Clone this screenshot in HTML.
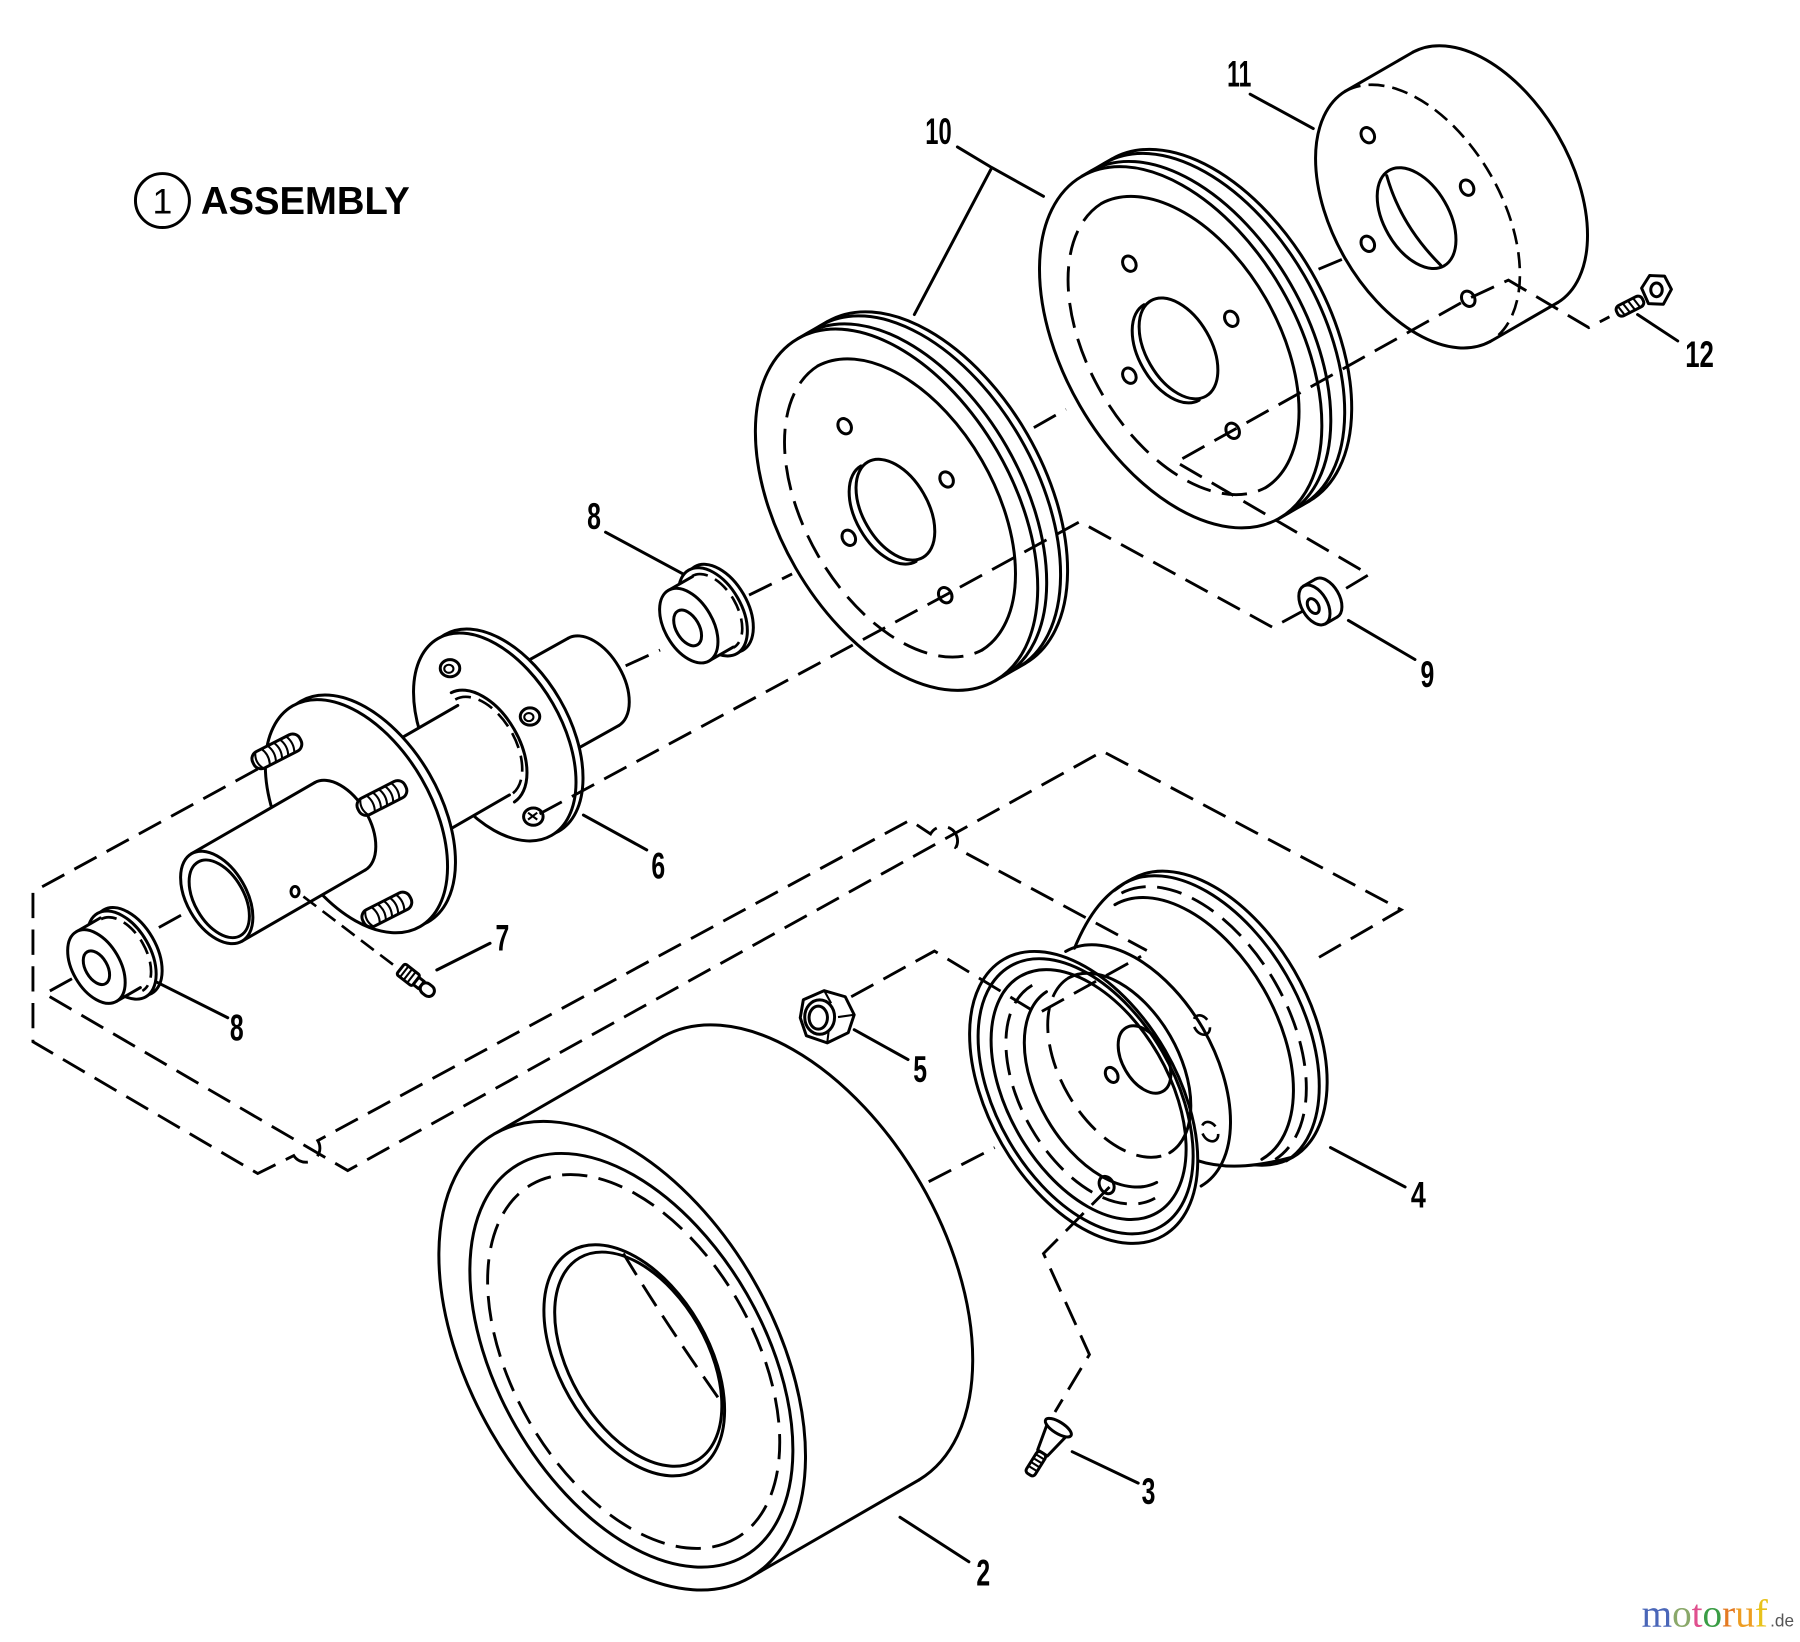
<!DOCTYPE html>
<html><head><meta charset="utf-8"><style>
html,body{margin:0;padding:0;background:#fff;width:1800px;height:1642px;overflow:hidden}
svg{display:block}
.s{fill:none;stroke:#000;stroke-width:2.6;stroke-linejoin:round;stroke-linecap:round}
.s1{fill:none;stroke:#000;stroke-width:1.8}
.w{fill:#fff;stroke:#000;stroke-width:2.6;stroke-linejoin:round}
.wf{fill:#fff;stroke:none}
.d{fill:none;stroke:#000;stroke-width:2.5;stroke-dasharray:22 10}
.d2{fill:none;stroke:#000;stroke-width:2.3;stroke-dasharray:14 7}
.t{font-family:"Liberation Sans",Arial,sans-serif;font-weight:bold;font-size:32px;text-anchor:middle;fill:#000}
</style></head><body>
<svg width="1800" height="1642" viewBox="0 0 1568 1430.4" preserveAspectRatio="none" xmlns="http://www.w3.org/2000/svg">
<rect x="0" y="0" width="1568" height="1431" fill="#fff"/>

<!-- Title -->
<circle cx="141.5" cy="174.7" r="23.5" class="s"/>
<text x="141.5" y="186" font-family="Liberation Sans, Arial, sans-serif" font-size="31" text-anchor="middle">1</text>
<text x="175" y="186.3" font-family="Liberation Sans, Arial, sans-serif" font-weight="bold" font-size="34" textLength="182" lengthAdjust="spacingAndGlyphs">ASSEMBLY</text>

<!-- Part 11 -->
<path class="s" d="M1230.9,45.4 A126,74.3 60 0 1 1356.9,263.6"/>
<path class="s" d="M1172,79.4 L1230.9,45.4 M1298,297.6 L1356.9,263.6"/>
<path class="s" d="M1172,79.4 A126,74.3 60 0 0 1298,297.6"/>
<path class="d2" d="M1172,79.4 A126,74.3 60 0 1 1298,297.6"/>
<ellipse class="s" cx="1234" cy="190" rx="48" ry="28.3" transform="rotate(60 1234 190)"/>
<path class="s" d="M1208,153 Q1220,196 1255,231"/>
<ellipse class="s" cx="1191.5" cy="117.8" rx="7" ry="5.5" transform="rotate(60 1191.5 117.8)"/>
<ellipse class="s" cx="1278" cy="163.5" rx="7" ry="5.5" transform="rotate(60 1278 163.5)"/>
<ellipse class="s" cx="1191.5" cy="212.4" rx="7" ry="5.5" transform="rotate(60 1191.5 212.4)"/>
<ellipse class="s" cx="1279" cy="260.3" rx="7" ry="5.5" transform="rotate(60 1279 260.3)"/>

<!-- Part 12 screw -->
<g transform="translate(1431,261) rotate(153)">
<rect class="w" x="0" y="-5" width="25" height="10" rx="4"/>
<path class="s1" d="M5,-5 l2,10 M10,-5 l2,10 M15,-5 l2,10 M20,-5 l2,10"/>
</g>
<polygon class="w" points="1456,252 1450,240.5 1437,240 1430,251 1436,264.5 1449,265"/>
<ellipse class="s" cx="1443" cy="252.5" rx="5" ry="6"/>

<!-- Pulley P2 -->
<ellipse class="w" cx="1054.5" cy="287.5" rx="172" ry="101.5" transform="rotate(60 1054.5 287.5)"/>
<ellipse class="w" cx="1048.4" cy="291" rx="172" ry="101.5" transform="rotate(60 1048.4 291)"/>
<ellipse class="w" cx="1036.3" cy="298" rx="172" ry="101.5" transform="rotate(60 1036.3 298)"/>
<ellipse class="w" cx="1028.5" cy="302.5" rx="172" ry="101.5" transform="rotate(60 1028.5 302.5)"/>
<path class="s" d="M942.5,153.5 L968.5,138.5 M1114.5,451.5 L1140.5,436.5"/>
<path class="d" d="M959.5,177.2 A143,84.4 60 0 0 1102.5,424.8"/>
<path class="s" d="M959.5,177.2 A143,84.4 60 0 1 1102.5,424.8"/>
<ellipse class="s" cx="1026.6" cy="303.5" rx="48" ry="28.3" transform="rotate(60 1026.6 303.5)"/>
<path class="s" d="M996.6,265.4 A48,28.3 60 0 0 1044.6,348.6"/>
<ellipse class="s" cx="983.8" cy="229.7" rx="7" ry="5.5" transform="rotate(60 983.8 229.7)"/>
<ellipse class="s" cx="1072.6" cy="277.7" rx="7" ry="5.5" transform="rotate(60 1072.6 277.7)"/>
<ellipse class="s" cx="983.8" cy="327.3" rx="7" ry="5.5" transform="rotate(60 983.8 327.3)"/>
<ellipse class="s" cx="1073.8" cy="375.3" rx="7" ry="5.5" transform="rotate(60 1073.8 375.3)"/>

<!-- Spacer 9 -->
<ellipse class="w" cx="1155.4" cy="521" rx="19" ry="11.2" transform="rotate(60 1155.4 521)"/>
<polygon class="wf" points="1135.5,510.5 1145.9,504.5 1164.9,537.5 1154.5,543.5"/>
<path class="s" d="M1135.5,510.5 L1145.9,504.5 M1154.5,543.5 L1164.9,537.5"/>
<ellipse class="w" cx="1145" cy="527" rx="19" ry="11.2" transform="rotate(60 1145 527)"/>
<ellipse class="s" cx="1144" cy="528" rx="7" ry="4.5" transform="rotate(60 1144 528)"/>

<!-- Pulley P1 -->
<ellipse class="w" cx="807" cy="429" rx="172" ry="101.5" transform="rotate(60 807 429)"/>
<ellipse class="w" cx="800.9" cy="432.5" rx="172" ry="101.5" transform="rotate(60 800.9 432.5)"/>
<ellipse class="w" cx="788.8" cy="439.5" rx="172" ry="101.5" transform="rotate(60 788.8 439.5)"/>
<ellipse class="w" cx="781" cy="444" rx="172" ry="101.5" transform="rotate(60 781 444)"/>
<path class="s" d="M695,295 L721,280 M867,593 L893,578"/>
<path class="d" d="M712.5,318.7 A143,84.4 60 0 0 855.5,566.3"/>
<path class="s" d="M712.5,318.7 A143,84.4 60 0 1 855.5,566.3"/>
<ellipse class="s" cx="780" cy="444" rx="48" ry="28.3" transform="rotate(60 780 444)"/>
<path class="s" d="M750,405.9 A48,28.3 60 0 0 798,489.1"/>
<ellipse class="s" cx="735.8" cy="371.3" rx="7" ry="5.5" transform="rotate(60 735.8 371.3)"/>
<ellipse class="s" cx="824.6" cy="417.7" rx="7" ry="5.5" transform="rotate(60 824.6 417.7)"/>
<ellipse class="s" cx="739.4" cy="468.5" rx="7" ry="5.5" transform="rotate(60 739.4 468.5)"/>
<ellipse class="s" cx="823.4" cy="518.5" rx="7" ry="5.5" transform="rotate(60 823.4 518.5)"/>

<!-- Bearing 8 upper -->
<ellipse class="w" cx="626.2" cy="530" rx="42" ry="24.8" transform="rotate(60 626.2 530)"/>
<ellipse class="w" cx="621" cy="533" rx="42" ry="24.8" transform="rotate(60 621 533)"/>
<path class="d2" d="M603,501.8 A36,21 60 0 1 639,564.2"/>
<polygon class="wf" points="582.25,514.3 603.25,502.3 638.75,563.7 617.75,575.7"/>
<path class="s" d="M582.25,514.3 L603.25,502.3 M617.75,575.7 L638.75,563.7"/>
<ellipse class="w" cx="600" cy="545" rx="35.5" ry="21" transform="rotate(60 600 545)"/>
<ellipse class="s" cx="599" cy="547" rx="17" ry="10" transform="rotate(60 599 547)"/>

<!-- Hub (part 6) -->
<polygon class="wf" points="409,603.9 495,555.9 539,632.1 453,680.1"/>
<path class="s" d="M409,603.9 L495,555.9 M453,680.1 L539,632.1"/>
<path class="s" d="M495,555.9 A44,26 60 0 1 539,632.1"/>
<ellipse class="w" cx="437.1" cy="638.5" rx="99" ry="58.4" transform="rotate(60 437.1 638.5)"/>
<ellipse class="w" cx="431" cy="642" rx="99" ry="58.4" transform="rotate(60 431 642)"/>
<path class="s" d="M393.1,603.4 A55,32.5 60 0 1 448.1,698.6"/>
<path class="d2" d="M396.6,609.4 A48,28.3 60 0 1 444.6,692.6"/>
<ellipse class="w" cx="392" cy="582.1" rx="8.5" ry="7.5"/>
<ellipse class="s1" cx="391" cy="582.6" rx="4" ry="3.5"/>
<ellipse class="w" cx="461.7" cy="624.2" rx="8.5" ry="7.5"/>
<ellipse class="s1" cx="460.7" cy="624.7" rx="4" ry="3.5"/>
<ellipse class="w" cx="464.6" cy="711.4" rx="8.5" ry="7.5"/>
<path class="s1" d="M460,708 l8,6 M460,714 l8,-6"/>
<polygon class="wf" points="290.5,677 398.8,614.5 443.8,692.5 335.5,755"/>
<path class="s" d="M290.5,677 L398.8,614.5 M335.5,755 L443.8,692.5"/>
<ellipse class="w" cx="317.4" cy="707" rx="111" ry="65.5" transform="rotate(60 317.4 707)"/>
<ellipse class="w" cx="310.5" cy="711" rx="111" ry="65.5" transform="rotate(60 310.5 711)"/>
<polygon class="wf" points="166.8,743.7 274.2,681.7 318.2,757.9 210.8,819.9"/>
<path class="s" d="M166.8,743.7 L274.2,681.7 M210.8,819.9 L318.2,757.9"/>
<path class="s" d="M274.2,681.7 A44,26 60 0 1 318.2,757.9"/>
<ellipse class="w" cx="188.8" cy="781.8" rx="44" ry="26" transform="rotate(60 188.8 781.8)"/>
<ellipse class="s" cx="191" cy="783" rx="37" ry="21.5" transform="rotate(60 191 783)"/>
<ellipse class="s" cx="257" cy="776.7" rx="3.5" ry="4.5"/>
<!-- studs -->
<g transform="translate(220.7,665) rotate(-27)">
<rect class="w" x="0" y="-8" width="46" height="16" rx="7"/>
<path class="s1" d="M6,-8 q-5,8 0,16 M12,-8 q4,8 0,16 M18,-8 q4,8 0,16 M24,-8 q4,8 0,16 M30,-8 q4,8 0,16 M36,-8 q4,8 0,16"/>
</g>
<g transform="translate(312.2,705.6) rotate(-27)">
<rect class="w" x="0" y="-8" width="46" height="16" rx="7"/>
<path class="s1" d="M6,-8 q-5,8 0,16 M12,-8 q4,8 0,16 M18,-8 q4,8 0,16 M24,-8 q4,8 0,16 M30,-8 q4,8 0,16 M36,-8 q4,8 0,16"/>
</g>
<g transform="translate(316.5,802.8) rotate(-27)">
<rect class="w" x="0" y="-8" width="46" height="16" rx="7"/>
<path class="s1" d="M6,-8 q-5,8 0,16 M12,-8 q4,8 0,16 M18,-8 q4,8 0,16 M24,-8 q4,8 0,16 M30,-8 q4,8 0,16 M36,-8 q4,8 0,16"/>
</g>

<!-- Bearing 8 lower -->
<ellipse class="w" cx="111.2" cy="829" rx="42" ry="24.8" transform="rotate(60 111.2 829)"/>
<ellipse class="w" cx="106" cy="832" rx="42" ry="24.8" transform="rotate(60 106 832)"/>
<path class="d2" d="M88,800.8 A36,21 60 0 1 124,863.2"/>
<polygon class="wf" points="66.5,811.7 87.3,799.7 122.3,860.3 101.5,872.3"/>
<path class="s" d="M66.5,811.7 L87.3,799.7 M101.5,872.3 L122.3,860.3"/>
<ellipse class="w" cx="84" cy="842" rx="35" ry="20.7" transform="rotate(60 84 842)"/>
<ellipse class="s" cx="84" cy="843" rx="16" ry="9.5" transform="rotate(60 84 843)"/>

<!-- Grease fitting 7 -->
<g transform="translate(349,844) rotate(38)">
<rect class="w" x="0" y="-6" width="17" height="12" rx="2"/>
<path class="s1" d="M4,-6 l0,12 M8,-6 l0,12 M12,-6 l0,12"/>
<rect class="w" x="17" y="-4" width="6" height="8"/>
<rect class="w" x="23" y="-5" width="13" height="10" rx="5"/>
</g>

<!-- Rim (part 4) -->
<ellipse class="w" cx="1056" cy="887" rx="140" ry="82.6" transform="rotate(60 1056 887)"/>
<polygon class="wf" points="874.5,835.6 936,826 960,785 988,765 1126,1008.2 1080,1016 1013.5,1076.4"/>
<path class="s" d="M936,826 C948,797 963,776 988,765"/>
<path class="s" d="M1043,1011 C1070,1020 1100,1015 1126,1008"/>
<path class="s" d="M980.8,768.8 A140,82.6 60 0 1 1120.8,1011.2"/>
<path class="d" d="M976.9,778 A134,79 60 0 1 1110.9,1010"/>
<path class="s" d="M971.2,788.1 A128,75.5 60 0 1 1099.2,1009.9"/>
<path class="s" d="M928.3,828.8 A118,70 60 0 1 1046.3,1033.2"/>
<ellipse class="w" cx="944" cy="956" rx="139" ry="82" transform="rotate(60 944 956)"/>
<ellipse class="s" cx="945.7" cy="955" rx="131" ry="77.3" transform="rotate(60 945.7 955)"/>
<ellipse class="s" cx="948.3" cy="953.5" rx="119" ry="70" transform="rotate(60 948.3 953.5)"/>
<path class="d" d="M899.2,858.3 A107,63 60 0 0 1006.2,1043.7"/>
<path class="s" d="M911.6,863.9 A96,56.6 60 0 0 1007.6,1030.1"/>
<path class="d" d="M931,851.8 A88,52 60 0 0 1019,1004.2"/>
<path class="s" d="M931,851.8 A88,52 60 0 1 1019,1004.2"/>
<ellipse class="s" cx="997" cy="923" rx="32" ry="19" transform="rotate(60 997 923)"/>
<ellipse class="s" cx="968.4" cy="936.4" rx="7" ry="5" transform="rotate(60 968.4 936.4)"/>
<ellipse class="d2" cx="1046.8" cy="892.9" rx="9" ry="6.5" transform="rotate(60 1046.8 892.9)"/>
<ellipse class="d2" cx="1054" cy="985.8" rx="9" ry="6.5" transform="rotate(60 1054 985.8)"/>
<ellipse class="s" cx="964" cy="1032.3" rx="8" ry="6" transform="rotate(60 964 1032.3)"/>

<!-- Tire (part 2) -->
<path class="s" d="M577.7,902.9 A223,132 60 0 1 800.7,1289.1"/>
<path class="s" d="M430.5,987.9 L577.7,902.9 M653.5,1374.1 L800.7,1289.1"/>
<ellipse class="w" cx="542" cy="1181" rx="223" ry="132" transform="rotate(60 542 1181)"/>
<ellipse class="s" cx="550" cy="1185" rx="197" ry="116" transform="rotate(60 550 1185)"/>
<ellipse class="d" cx="552" cy="1186" rx="178" ry="105" transform="rotate(60 552 1186)"/>
<ellipse class="s" cx="552.5" cy="1185" rx="110" ry="65" transform="rotate(60 552.5 1185)"/>
<ellipse class="s" cx="556" cy="1184" rx="102" ry="60" transform="rotate(60 556 1184)"/>
<path class="d" d="M543,1092 Q578,1150 628,1221"/>

<!-- Nut 5 -->
<polygon class="w" points="699.8,870.9 718,863 736.3,868.3 744.1,884 738.9,899.6 720.6,908.5 702.4,902.2 697.1,886.6"/>
<path class="s1" d="M718,863 L724,874 M744.1,884 L730,886 M720.6,908.5 L722,897"/>
<ellipse class="s" cx="714" cy="886" rx="13" ry="15"/>
<ellipse class="s" cx="712.8" cy="886.5" rx="8" ry="10"/>

<!-- Valve 3 -->
<g transform="translate(923,1242) rotate(122)">
<path class="w" d="M4,-10 L28,-5 L28,5 L4,10 Z"/>
<ellipse class="w" cx="2" cy="0" rx="5" ry="13"/>
<rect class="w" x="28" y="-4.5" width="22" height="9" rx="3"/>
<path class="s1" d="M32,-4.5 l0,9 M36,-4.5 l0,9 M40,-4.5 l0,9 M44,-4.5 l0,9"/>
</g>

<!-- Dashed lines -->
<path class="d" d="M138.4,808 L161.9,795"/>
<path class="d" d="M545,580 L575,566.3"/>
<path class="d" d="M652.5,518.4 L690,500"/>
<path class="d" d="M900.6,372.5 L928.6,356.5"/>
<path class="d" d="M1148.6,234.5 L1169,226"/>
<path class="d" d="M470,709 L823.4,518.5 L940.6,454.5 L1108.6,546.5 L1134.6,532.5"/>
<path class="d" d="M1172.6,512.5 L1192.6,500.5 L1024.6,402.5 L1279,260.3 L1314,244 L1384,285.4 L1402,276"/>
<path class="d" d="M224.5,669.9 L28.7,776.9 L28.7,907.5 L224.5,1022.3 L255.9,1006.7 A11,11 0 0 0 276.8,993.6 L792.6,714.5 L810.6,726.5 A11,11 0 0 1 832.6,738.5 L999,828"/>
<path class="d" d="M62.7,852.6 L39,865.7 L302.9,1019.7 L960.6,654.5 L1220.6,792.5 L1144.6,836.5"/>
<path class="d" d="M741.5,868.3 L814,828.5 L904,883 L994,833"/>
<path class="d" d="M809,1029.4 L866.5,999.7"/>
<path class="d" d="M966.5,1034 L909,1092 L949,1180 L919,1230"/>
<path class="d2" d="M264.3,781 L348.5,845"/>

<!-- Leader lines -->
<path class="s" d="M834,128 L864,146 L909,171 M864,146 L796.5,274"/>
<path class="s" d="M1089,82 L1144,112"/>
<path class="s" d="M1426.5,274 L1461.5,297"/>
<path class="s" d="M527.5,463.6 L595,500"/>
<path class="s" d="M1174.6,540.5 L1232.6,574.5"/>
<path class="s" d="M508.2,710 L563.4,740.4"/>
<path class="s" d="M380.5,845 L426.9,821.7"/>
<path class="s" d="M135.8,855.2 L198.4,886.6"/>
<path class="s" d="M744.1,897 L791,923"/>
<path class="s" d="M1159,999.7 L1224,1034"/>
<path class="s" d="M934,1264.6 L991.5,1292"/>
<path class="s" d="M784,1321.7 L844,1360.5"/>

<!-- Labels -->
<text class="t" x="817.5" y="125.6" textLength="23" lengthAdjust="spacingAndGlyphs">10</text>
<text class="t" x="1079.5" y="75.4" textLength="21" lengthAdjust="spacingAndGlyphs">11</text>
<text class="t" x="1480.5" y="319.7" textLength="25" lengthAdjust="spacingAndGlyphs">12</text>
<text class="t" x="517.5" y="461" textLength="12" lengthAdjust="spacingAndGlyphs">8</text>
<text class="t" x="1243.4" y="598.5" textLength="12" lengthAdjust="spacingAndGlyphs">9</text>
<text class="t" x="573.4" y="765.4" textLength="12" lengthAdjust="spacingAndGlyphs">6</text>
<text class="t" x="437.6" y="828" textLength="12" lengthAdjust="spacingAndGlyphs">7</text>
<text class="t" x="206.3" y="906.4" textLength="12" lengthAdjust="spacingAndGlyphs">8</text>
<text class="t" x="801.6" y="942.4" textLength="12" lengthAdjust="spacingAndGlyphs">5</text>
<text class="t" x="1235.5" y="1052" textLength="13" lengthAdjust="spacingAndGlyphs">4</text>
<text class="t" x="1000.5" y="1310.3" textLength="12" lengthAdjust="spacingAndGlyphs">3</text>
<text class="t" x="856.5" y="1381" textLength="12" lengthAdjust="spacingAndGlyphs">2</text>

<!-- Watermark -->
<text x="1430" y="1417" font-family="Liberation Serif, serif" font-size="34" textLength="110" lengthAdjust="spacingAndGlyphs"><tspan fill="#4a66b8">m</tspan><tspan fill="#8aa86a">o</tspan><tspan fill="#e0508e">t</tspan><tspan fill="#3a9d45">o</tspan><tspan fill="#e47a22">r</tspan><tspan fill="#ee9d22">u</tspan><tspan fill="#e8c21c">f</tspan></text>
<text x="1542" y="1417" font-family="Liberation Sans, Arial, sans-serif" font-size="15" fill="#555">.de</text>
</svg>
</body></html>
